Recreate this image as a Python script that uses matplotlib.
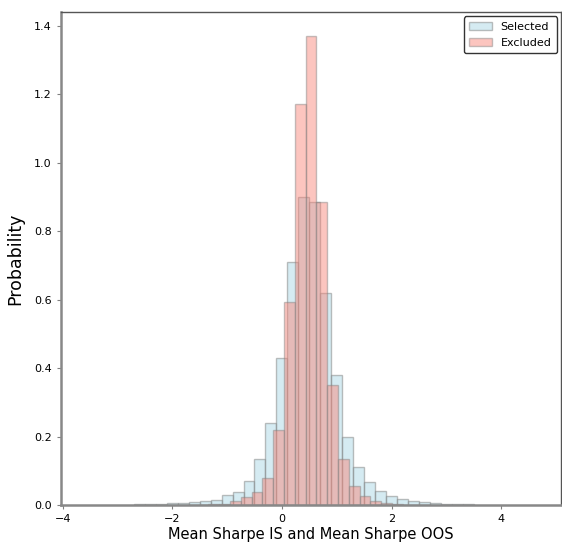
import matplotlib
matplotlib.use("Agg")
import matplotlib.pyplot as plt
import numpy as np

# Selected (blue) histogram: bin width 0.2, left edges
sel_left = [-2.7, -2.5, -2.3, -2.1, -1.9, -1.7, -1.5, -1.3, -1.1, -0.9, -0.7, -0.5, -0.3, -0.1,
            0.1, 0.3, 0.5, 0.7, 0.9, 1.1, 1.3, 1.5, 1.7, 1.9, 2.1, 2.3, 2.5, 2.7, 2.9, 3.1, 3.3]
sel_height = [0.002, 0.002, 0.004, 0.006, 0.006, 0.009, 0.012, 0.0146, 0.030, 0.039, 0.071, 0.134, 0.239, 0.43,
              0.71, 0.90, 0.885, 0.62, 0.38, 0.20, 0.11, 0.068, 0.041, 0.027, 0.0175, 0.0117, 0.008, 0.007, 0.003, 0.003, 0.002]
sel_width = 0.2

# Excluded (red) histogram: bin width ~0.197, left edges
exc_left = [-1.536, -1.339, -1.142, -0.945, -0.748, -0.551, -0.354, -0.157,
            0.040, 0.237, 0.434, 0.631, 0.828, 1.025, 1.222, 1.419, 1.616, 1.813, 2.010]
exc_height = [0.001, 0.002, 0.004, 0.0117, 0.0225, 0.037, 0.08, 0.22,
              0.594, 1.172, 1.371, 0.884, 0.351, 0.134, 0.056, 0.026, 0.0126, 0.005, 0.002]
exc_width = 0.197

fig = plt.figure(figsize=(5.62, 5.43), dpi=100)
ax = fig.add_axes([0.1085, 0.07, 0.8905, 0.908])

ax.bar(sel_left, sel_height, width=sel_width, align='edge', color='lightblue',
       edgecolor='gray', linewidth=1, alpha=0.5, label='Selected')
ax.bar(exc_left, exc_height, width=exc_width, align='edge', color='salmon',
       edgecolor='gray', linewidth=1, alpha=0.45, label='Excluded')

ax.set_xlim(-4.03, 5.10)
ax.set_ylim(0, 1.44)
ax.set_xticks([-4, -2, 0, 2, 4])
ax.set_yticks([0.0, 0.2, 0.4, 0.6, 0.8, 1.0, 1.2, 1.4])
ax.set_yticklabels(['0.0', '0.2', '0.4', '0.6', '0.8', '1.0', '1.2', '1.4'])
ax.tick_params(labelsize=8, length=3, color='gray')

for s in ['left', 'bottom']:
    ax.spines[s].set_color('#888888')
    ax.spines[s].set_linewidth(1.8)
for s in ['top', 'right']:
    ax.spines[s].set_color('#555555')
    ax.spines[s].set_linewidth(1.0)

ax.set_xlabel('Mean Sharpe IS and Mean Sharpe OOS', fontsize=10.5, labelpad=2)
ax.set_ylabel('Probability', fontsize=12.5, labelpad=7)

leg = ax.legend(loc='upper right', fontsize=8, frameon=True, fancybox=True,
                borderaxespad=0.4, handlelength=2.0, borderpad=0.5)
leg.get_frame().set_edgecolor('black')
leg.get_frame().set_linewidth(1.0)

fig.savefig('out.png', dpi=100)
